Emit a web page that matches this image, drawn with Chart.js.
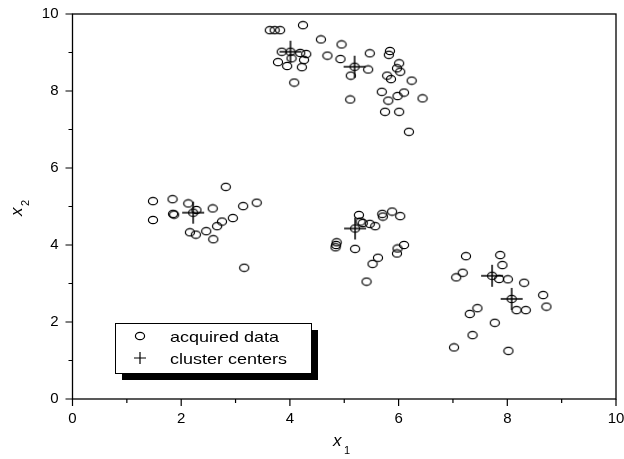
<!DOCTYPE html>
<html>
<head>
<meta charset="utf-8">
<script src="https://cdn.jsdelivr.net/npm/chart.js@4"></script>
<style>
  html, body { margin: 0; padding: 0; background: #fff; }
  #wrap { width: 624px; height: 459px; }
</style>
</head>
<body>
<div id="wrap"><canvas id="chart" width="624" height="459"></canvas></div>
<script>
// acquired data (x1, x2)
const dataX1 = [
  3.63, 3.72, 3.82, 4.24, 4.57, 4.95, 3.85, 4.19, 4.30, 4.03, 3.78, 4.26, 3.95, 4.22, 4.08,
  4.69, 4.93, 5.12, 5.44, 5.47, 5.84, 5.82, 6.01, 5.97, 6.03, 5.79, 5.86, 6.24, 5.69, 6.10,
  5.98, 5.81, 6.44, 5.11, 5.75, 6.01, 6.19,
  2.82, 1.48, 1.84, 2.13, 2.28, 1.85, 1.87, 1.48, 2.58, 3.14, 3.39, 2.95, 2.75, 2.66, 2.46,
  2.16, 2.27, 2.59, 3.16,
  5.27, 5.30, 5.34, 5.47, 5.57, 5.70, 5.71, 5.88, 6.03, 4.86, 4.85, 4.84, 5.20, 6.10, 5.98,
  5.97, 5.62, 5.52, 5.41,
  7.24, 7.87, 7.91, 7.18, 7.06, 7.85, 8.01, 8.31, 8.66, 8.72, 8.17, 8.34, 7.45, 7.31, 7.77,
  7.36, 7.02, 8.02
];
const dataX2 = [
  9.58, 9.58, 9.58, 9.71, 9.34, 9.21, 9.02, 8.99, 8.96, 8.85, 8.75, 8.81, 8.65, 8.62, 8.22,
  8.92, 8.83, 8.40, 8.56, 8.98, 9.04, 8.94, 8.72, 8.59, 8.50, 8.40, 8.31, 8.27, 7.98, 7.96,
  7.87, 7.75, 7.81, 7.78, 7.46, 7.46, 6.94,
  5.51, 5.14, 5.19, 5.08, 4.91, 4.81, 4.79, 4.65, 4.95, 5.01, 5.10, 4.70, 4.61, 4.49, 4.36,
  4.33, 4.27, 4.15, 3.41,
  4.78, 4.61, 4.57, 4.55, 4.49, 4.81, 4.74, 4.87, 4.75, 4.07, 4.00, 3.94, 3.90, 4.00, 3.91,
  3.78, 3.67, 3.51, 3.05,
  3.71, 3.74, 3.48, 3.28, 3.16, 3.12, 3.11, 3.02, 2.70, 2.40, 2.31, 2.31, 2.36, 2.21, 1.98,
  1.66, 1.34, 1.25
];
// cluster centers
const centerX1 = [4.01, 5.19, 2.22, 5.20, 7.72, 8.08];
const centerX2 = [9.02, 8.63, 4.84, 4.43, 3.20, 2.60];

const majorTicks = [0, 2, 4, 6, 8, 10];
const minorTicks = [1, 3, 5, 7, 9];
const legendLabels = ['acquired data', 'cluster centers'];

const FONT = 'Liberation Sans, Arial, sans-serif';

// slightly wide open ellipse used as the data marker
function makeEllipse() {
  const c = document.createElement('canvas');
  c.width = 12; c.height = 10;
  const g = c.getContext('2d');
  g.strokeStyle = '#000';
  g.lineWidth = 1.2;
  g.beginPath();
  g.ellipse(6, 5, 4.6, 3.7, 0, 0, Math.PI * 2);
  g.stroke();
  return c;
}
// center marker: big plus with a small ring in the middle
function makeCenter() {
  const c = document.createElement('canvas');
  c.width = 24; c.height = 24;
  const g = c.getContext('2d');
  g.strokeStyle = '#000';
  g.lineWidth = 1.5;
  g.beginPath();
  g.moveTo(1, 12); g.lineTo(23, 12);
  g.moveTo(12, 1); g.lineTo(12, 23);
  g.stroke();
  g.lineWidth = 1.2;
  g.beginPath();
  g.ellipse(12, 12, 4.6, 3.7, 0, 0, Math.PI * 2);
  g.stroke();
  return c;
}
const ellipseMark = makeEllipse();
const centerMark = makeCenter();

const points = dataX1.map((x, i) => ({ x: x, y: dataX2[i] }));
const centers = centerX1.map((x, i) => ({ x: x, y: centerX2[i] }));

// frame, minor/major ticks, axis titles and the boxed legend
const decorations = {
  id: 'decorations',
  afterDraw(chart) {
    const ctx = chart.ctx;
    const a = chart.chartArea;
    const xs = chart.scales.x, ys = chart.scales.y;
    ctx.save();
    ctx.strokeStyle = '#000';
    ctx.lineWidth = 1.3;
    ctx.strokeRect(a.left, a.top, a.right - a.left, a.bottom - a.top);

    ctx.lineWidth = 1.2;
    ctx.beginPath();
    majorTicks.forEach(v => {
      const px = xs.getPixelForValue(v);
      ctx.moveTo(px, a.bottom); ctx.lineTo(px, a.bottom + 7);
      const py = ys.getPixelForValue(v);
      ctx.moveTo(a.left, py); ctx.lineTo(a.left - 7, py);
    });
    minorTicks.forEach(v => {
      const px = xs.getPixelForValue(v);
      ctx.moveTo(px, a.bottom); ctx.lineTo(px, a.bottom + 4);
      const py = ys.getPixelForValue(v);
      ctx.moveTo(a.left, py); ctx.lineTo(a.left - 4, py);
    });
    ctx.stroke();

    // axis titles
    ctx.fillStyle = '#000';
    ctx.textBaseline = 'alphabetic';
    ctx.font = 'italic 17px ' + FONT;
    ctx.fillText('x', 333, 446);
    ctx.font = '11px ' + FONT;
    ctx.fillText('1', 344, 454);

    ctx.save();
    ctx.translate(22, 216);
    ctx.rotate(-Math.PI / 2);
    ctx.font = 'italic 17px ' + FONT;
    ctx.fillText('x', 0, 0);
    ctx.font = '11px ' + FONT;
    ctx.fillText('2', 10, 7);
    ctx.restore();

    // legend box with drop shadow
    const bx = 115, by = 323, bw = 196, bh = 50;
    ctx.fillStyle = '#000';
    ctx.fillRect(bx + 7, by + 7, bw, bh);
    ctx.fillStyle = '#fff';
    ctx.fillRect(bx, by, bw, bh);
    ctx.lineWidth = 1;
    ctx.strokeRect(bx + 0.5, by + 0.5, bw, bh);

    ctx.drawImage(ellipseMark, 134, 331);
    ctx.lineWidth = 1.2;
    ctx.beginPath();
    ctx.moveTo(134, 358); ctx.lineTo(146, 358);
    ctx.moveTo(140, 352); ctx.lineTo(140, 364);
    ctx.stroke();

    ctx.fillStyle = '#000';
    ctx.font = '15px ' + FONT;
    ctx.save();
    ctx.translate(170, 342);
    ctx.scale(1.2, 1);
    ctx.fillText(legendLabels[0], 0, 0);
    ctx.restore();
    ctx.save();
    ctx.translate(170, 364);
    ctx.scale(1.2, 1);
    ctx.fillText(legendLabels[1], 0, 0);
    ctx.restore();
    ctx.restore();
  }
};

new Chart(document.getElementById('chart'), {
  type: 'scatter',
  data: {
    datasets: [
      {
        label: legendLabels[0],
        data: points,
        pointStyle: ellipseMark,
        pointRadius: 5,
        pointHoverRadius: 5
      },
      {
        label: legendLabels[1],
        data: centers,
        pointStyle: centerMark,
        pointRadius: 12,
        pointHoverRadius: 12
      }
    ]
  },
  options: {
    responsive: false,
    animation: false,
    events: [],
    layout: { autoPadding: false, padding: { top: 14, right: 8, left: 0, bottom: 0 } },
    plugins: { legend: { display: false }, tooltip: { enabled: false } },
    scales: {
      x: {
        type: 'linear',
        min: 0, max: 10,
        afterFit: s => { s.height = 60; s.paddingLeft = 0; s.paddingRight = 0; },
        grid: { display: false, drawTicks: false },
        border: { display: false },
        ticks: {
          stepSize: 2, padding: 11, color: '#000', maxRotation: 0,
          font: { family: FONT, size: 15 }
        }
      },
      y: {
        type: 'linear',
        min: 0, max: 10,
        afterFit: s => { s.width = 72.5; s.paddingTop = 0; s.paddingBottom = 0; },
        grid: { display: false, drawTicks: false },
        border: { display: false },
        ticks: {
          stepSize: 2, padding: 14, color: '#000',
          font: { family: FONT, size: 15 }
        }
      }
    }
  },
  plugins: [decorations]
});
</script>
</body>
</html>
